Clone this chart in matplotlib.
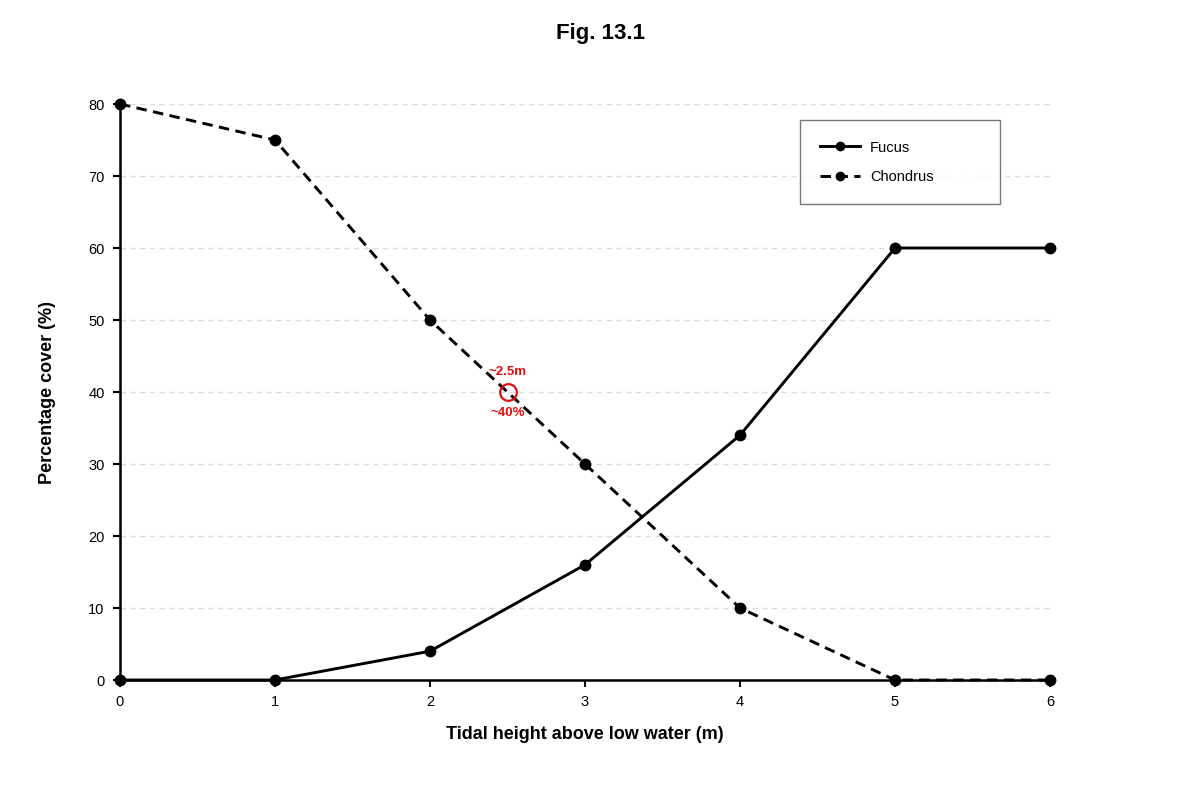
import numpy as np
import matplotlib.pyplot as plt

plt.rcParams['font.family'] = ['Liberation Sans', 'DejaVu Sans']

# data
tidal_height = [0, 1, 2, 3, 4, 5, 6]
fucus = [0, 0, 4, 16, 34, 60, 60]
chondrus = [80, 75, 50, 30, 10, 0, 0]
crossing_x = 2.5
crossing_y = 40

fig = plt.figure(figsize=(12, 8), dpi=100)
ax = fig.add_axes([0.1, 0.15, 0.775, 0.72])

ax.plot(tidal_height, fucus, color='black', linewidth=2.1, marker='o',
        markersize=7.5, label='Fucus', clip_on=False, zorder=3)
ax.plot(tidal_height, chondrus, color='black', linewidth=2.1, marker='o',
        markersize=7.5, linestyle=(0, (3.6, 2.2)), label='Chondrus',
        clip_on=False, zorder=3)

# merkitty piste
ax.plot([crossing_x], [crossing_y], marker='o', markersize=12,
        markerfacecolor='none', markeredgecolor='#e01010',
        markeredgewidth=1.6, linestyle='none', zorder=4)
ax.text(crossing_x, crossing_y + 1.9, '~2.5m', color='#e01010', fontsize=9.5,
        fontweight='bold', ha='center', va='bottom')
ax.text(crossing_x, crossing_y - 2.1, '~40%', color='#e01010', fontsize=9.5,
        fontweight='bold', ha='center', va='top')

ax.set_xlim(0, 6)
ax.set_ylim(0, 80)
ax.set_xticks(range(0, 7))
ax.set_yticks(range(0, 81, 10))
ax.tick_params(axis='both', direction='out', length=5, width=1.5,
               labelsize=10.5, pad=6)
ax.yaxis.grid(True, color='#dddddd', linestyle=(0, (4, 3)), linewidth=1)
ax.set_axisbelow(True)

for side in ['top', 'right']:
    ax.spines[side].set_visible(False)
for side in ['left', 'bottom']:
    ax.spines[side].set_linewidth(1.8)

ax.set_xlabel('Tidal height above low water (m)', fontsize=13,
              fontweight='bold', labelpad=12)
ax.set_ylabel('Percentage cover (%)', fontsize=13, fontweight='bold',
              labelpad=23)
fig.suptitle('Fig. 13.1', fontsize=16, fontweight='bold', y=0.971)

leg = ax.legend(loc='upper left', bbox_to_anchor=(0.731, 0.833, 0.215, 0.139),
                mode='expand', fontsize=10.5, frameon=True, fancybox=False,
                borderpad=1.4, labelspacing=1.05, handlelength=2.7,
                handletextpad=0.7, borderaxespad=0, markerscale=0.8)
leg.get_frame().set_edgecolor('#555555')
leg.get_frame().set_linewidth(1)

fig.savefig('out.png', dpi=100)
